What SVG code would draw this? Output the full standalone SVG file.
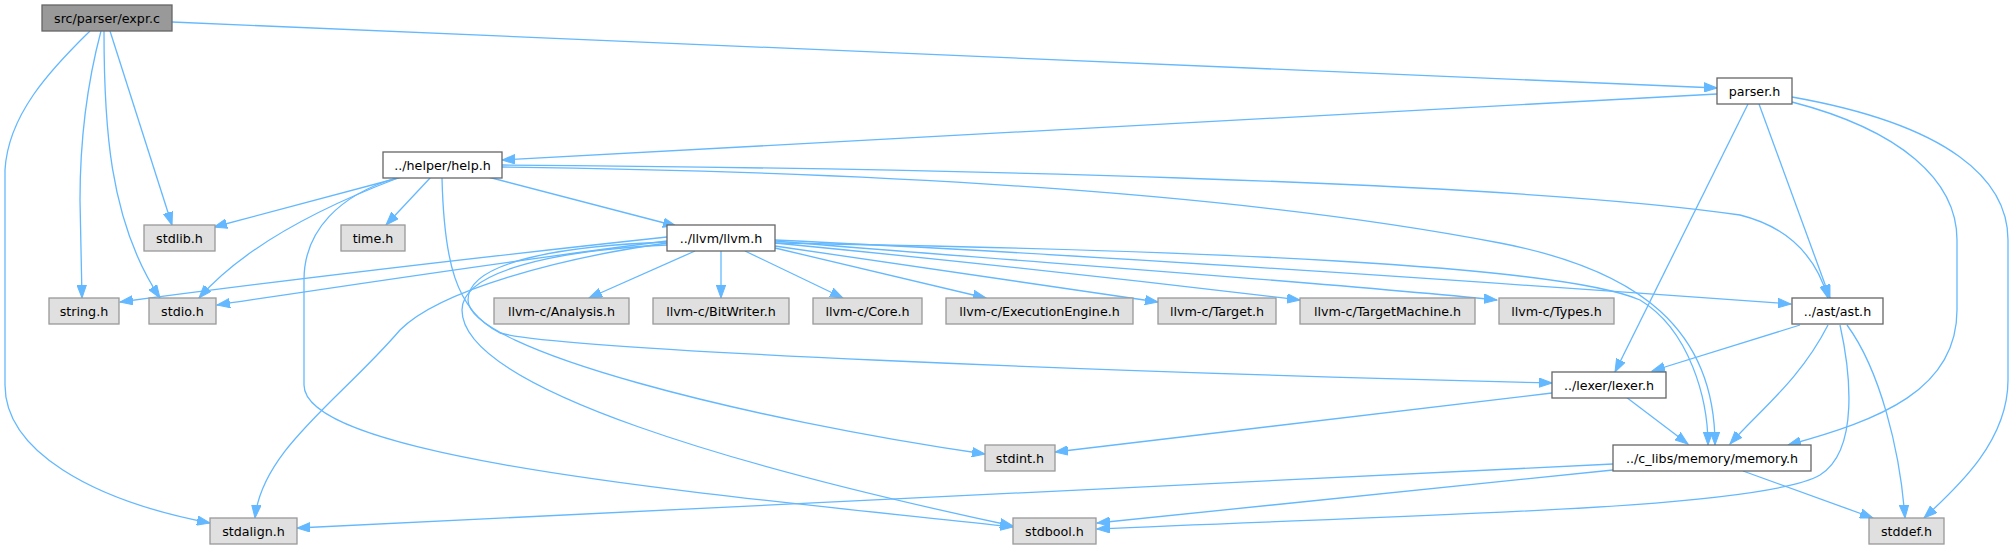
<svg xmlns="http://www.w3.org/2000/svg" width="2013" height="549" viewBox="0 0 2013 549">
<style>
.n rect{stroke-width:1.3}
.m rect{fill:#999999;stroke:#666666}
.w rect{fill:#ffffff;stroke:#666666}
.g rect{fill:#e0e0e0;stroke:#999999}
text{font-family:"DejaVu Sans",Verdana,sans-serif;font-size:12.7px;fill:#000;text-anchor:middle}
#edges path{fill:none;stroke:#63b8ff;stroke-width:1.3;marker-end:url(#a)}
</style>
<defs>
<marker id="a" markerUnits="userSpaceOnUse" markerWidth="14" markerHeight="10" refX="13" refY="5" orient="auto" viewBox="0 0 14 10">
<path d="M0,0.3 L13,5 L0,9.7 z" fill="#63b8ff" stroke="#63b8ff" stroke-width="1"/>
</marker>
</defs>
<rect width="2013" height="549" fill="#ffffff"/>
<g id="edges">
<path d="M172,22 L1717,88"/>
<path d="M110,31 L172,225"/>
<path d="M104,31 C104,120 108,220 160,298"/>
<path d="M101,31 C88,80 80,140 80,200 L82,298"/>
<path d="M90,31 C50,70 8,115 5,170 L5,385 C5,450 90,500 210,523"/>
<path d="M1717,94 L502,160"/>
<path d="M1748,104 L1615,372"/>
<path d="M1759,104 L1830,298"/>
<path d="M1792,102 C1900,130 1957,180 1957,240 L1957,310 C1957,390 1880,420 1788,445"/>
<path d="M1792,97 C1950,125 2008,180 2008,240 L2008,380 C2008,440 1960,485 1924,518"/>
<path d="M402,177 L214,227"/>
<path d="M398,178 C340,200 250,240 199,298"/>
<path d="M431,177 L386,225"/>
<path d="M488,177 L676,226"/>
<path d="M442,178 C444,260 455,310 500,333 C560,350 1100,372 1552,383"/>
<path d="M396,178 C340,195 304,230 304,280 L304,385 C304,460 720,495 1013,527"/>
<path d="M502,165 C900,168 1500,180 1740,215 C1800,230 1820,270 1828,298"/>
<path d="M502,167 C900,172 1250,195 1500,243 C1640,270 1715,330 1715,445"/>
<path d="M667,237 C500,255 300,278 120,302"/>
<path d="M667,241 C500,262 350,285 217,305"/>
<path d="M667,243 C560,258 440,290 400,330 C340,400 262,450 255,518"/>
<path d="M667,242 C560,246 468,262 468,300 C468,350 750,420 985,454"/>
<path d="M667,245 C560,250 462,270 462,310 C462,390 750,470 1013,526"/>
<path d="M695,251 L589,298"/>
<path d="M721,251 L721,298"/>
<path d="M745,251 L843,298"/>
<path d="M775,248 L986,298"/>
<path d="M775,246 L1158,302"/>
<path d="M775,243 C950,260 1150,282 1300,300"/>
<path d="M775,241 C1000,260 1300,280 1497,300"/>
<path d="M775,240 C1100,255 1500,283 1791,304"/>
<path d="M775,243 C1200,250 1560,265 1640,300 C1690,330 1708,400 1708,445"/>
<path d="M1800,325 L1652,371"/>
<path d="M1828,325 C1800,380 1760,410 1730,444"/>
<path d="M1847,325 C1880,370 1900,450 1905,518"/>
<path d="M1840,325 C1850,370 1860,450 1820,475 C1760,510 1400,515 1097,529"/>
<path d="M1626,397 L1688,444"/>
<path d="M1552,393 L1055,452"/>
<path d="M1613,464 L297,528"/>
<path d="M1613,470 L1097,523"/>
<path d="M1743,471 L1873,518"/>
</g>
<g id="node-expr" class="n m"><rect x="42" y="5" width="130" height="26"/><text x="107" y="22.5">src/parser/expr.c</text></g>
<g id="node-parser" class="n w"><rect x="1717" y="78" width="75" height="26"/><text x="1754.5" y="95.5">parser.h</text></g>
<g id="node-help" class="n w"><rect x="383" y="152" width="119" height="26"/><text x="442.5" y="169.5">../helper/help.h</text></g>
<g id="node-llvm" class="n w"><rect x="667" y="225" width="108" height="26"/><text x="721" y="242.5">../llvm/llvm.h</text></g>
<g id="node-stdlib" class="n g"><rect x="144" y="225" width="71" height="26"/><text x="179.5" y="242.5">stdlib.h</text></g>
<g id="node-time" class="n g"><rect x="341" y="225" width="64" height="26"/><text x="373" y="242.5">time.h</text></g>
<g id="node-string" class="n g"><rect x="49" y="298" width="70" height="26"/><text x="84" y="315.5">string.h</text></g>
<g id="node-stdio" class="n g"><rect x="149" y="298" width="67" height="26"/><text x="182.5" y="315.5">stdio.h</text></g>
<g id="node-analysis" class="n g"><rect x="494" y="298" width="135" height="26"/><text x="561.5" y="315.5">llvm-c/Analysis.h</text></g>
<g id="node-bitwriter" class="n g"><rect x="653" y="298" width="136" height="26"/><text x="721" y="315.5">llvm-c/BitWriter.h</text></g>
<g id="node-core" class="n g"><rect x="813" y="298" width="109" height="26"/><text x="867.5" y="315.5">llvm-c/Core.h</text></g>
<g id="node-exec" class="n g"><rect x="946" y="298" width="187" height="26"/><text x="1039.5" y="315.5">llvm-c/ExecutionEngine.h</text></g>
<g id="node-target" class="n g"><rect x="1158" y="298" width="118" height="26"/><text x="1217" y="315.5">llvm-c/Target.h</text></g>
<g id="node-targetmachine" class="n g"><rect x="1300" y="298" width="175" height="26"/><text x="1387.5" y="315.5">llvm-c/TargetMachine.h</text></g>
<g id="node-types" class="n g"><rect x="1499" y="298" width="115" height="26"/><text x="1556.5" y="315.5">llvm-c/Types.h</text></g>
<g id="node-ast" class="n w"><rect x="1792" y="298" width="91" height="26"/><text x="1837.5" y="315.5">../ast/ast.h</text></g>
<g id="node-lexer" class="n w"><rect x="1552" y="372" width="114" height="26"/><text x="1609" y="389.5">../lexer/lexer.h</text></g>
<g id="node-memory" class="n w"><rect x="1613" y="445" width="198" height="26"/><text x="1712" y="462.5">../c_libs/memory/memory.h</text></g>
<g id="node-stdint" class="n g"><rect x="985" y="445" width="70" height="26"/><text x="1020" y="462.5">stdint.h</text></g>
<g id="node-stdalign" class="n g"><rect x="210" y="518" width="87" height="26"/><text x="253.5" y="535.5">stdalign.h</text></g>
<g id="node-stdbool" class="n g"><rect x="1013" y="518" width="83" height="26"/><text x="1054.5" y="535.5">stdbool.h</text></g>
<g id="node-stddef" class="n g"><rect x="1869" y="518" width="75" height="26"/><text x="1906.5" y="535.5">stddef.h</text></g>
</svg>
